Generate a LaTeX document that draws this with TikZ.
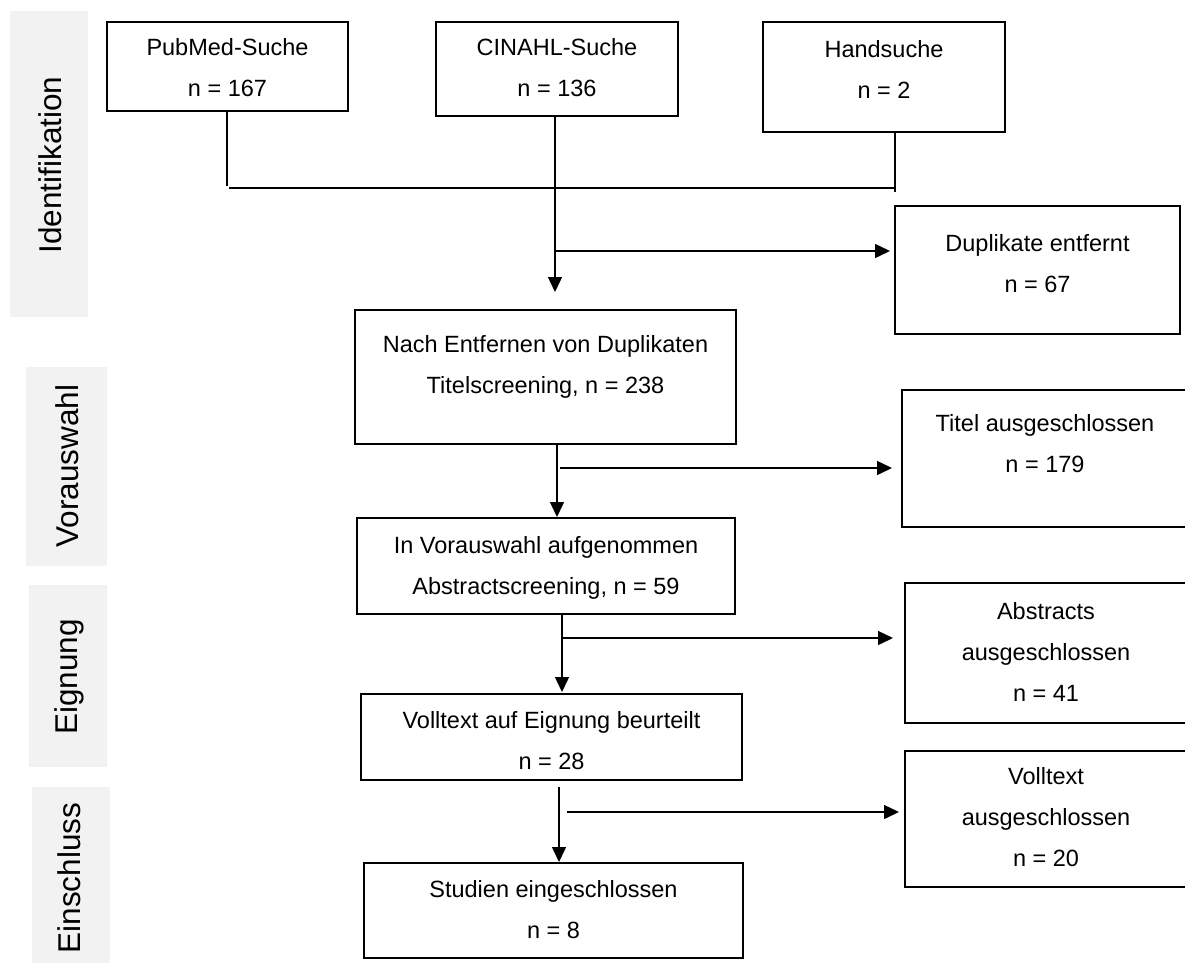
\documentclass[tikz,border=0pt]{standalone}
\usepackage{fontspec}
\setmainfont{Liberation Sans}
\usetikzlibrary{arrows.meta,fit}
\definecolor{bandgray}{HTML}{F2F2F2}
\tikzset{
  box/.style={draw=black, line width=2pt, inner sep=0pt, fill=white},
  txt/.style={align=center, font=\fontsize{23.5}{41}\selectfont, inner sep=0pt},
  band/.style={fill=bandgray, draw=none, inner sep=0pt},
  bandtxt/.style={rotate=90, anchor=base, font=\fontsize{31.5}{36}\selectfont, inner sep=0pt},
  thinline/.style={line width=1.2pt},
  arr/.style={line width=1.4pt, -{Triangle[length=15pt,width=14pt]}}
}
\begin{document}
\begin{tikzpicture}[x=1pt,y=-1pt]
\useasboundingbox (0,0) rectangle (1185,962);
% phase bands
\node[band, fit={(10,11) (88,317)}] (bIdent) {};
\node[band, fit={(26,367) (107,566)}] (bVor) {};
\node[band, fit={(29,585) (107,767)}] (bEig) {};
\node[band, fit={(32,787) (110,964)}] (bEin) {};
\node[bandtxt] (lIdent) at (61,165) {Identifikation};
\node[bandtxt] (lVor) at (78,466) {Vorauswahl};
\node[bandtxt] (lEig) at (77.5,677) {Eignung};
\node[bandtxt] (lEin) at (80,878) {Einschluss};
% boxes
\node[box, fit={(107,22) (348,111)}] (pub) {};
\node[box, fit={(436,22) (678,116)}] (cin) {};
\node[box, fit={(763,22) (1005,132)}] (hand) {};
\node[box, fit={(895,206) (1180,334)}] (dup) {};
\node[box, fit={(355,310) (736,444)}] (nach) {};
\node[box, fit={(902,390) (1190,527)}] (titel) {};
\node[box, fit={(357,518) (735,614)}] (vor) {};
\node[box, fit={(905,583) (1190,723)}] (abs) {};
\node[box, fit={(361,694) (742,780)}] (voll) {};
\node[box, fit={(905,751) (1190,887)}] (vausg) {};
\node[box, fit={(364,863) (743,958)}] (stud) {};
% texts
\node[txt] (pubT) at (227.5,68) {PubMed-Suche\\n = 167};
\node[txt] (cinT) at (557,68) {CINAHL-Suche\\n = 136};
\node[txt] (handT) at (884,69) {Handsuche\\n = 2};
\node[txt] (dupT) at (1037.5,264) {Duplikate entfernt\\n = 67};
\node[txt] (nachT) at (545.5,366.5) {Nach Entfernen von Duplikaten\\Titelscreening, n = 238};
\node[txt] (titelT) at (1045,444) {Titel ausgeschlossen\\n = 179};
\node[txt] (vorT) at (546,568) {In Vorauswahl aufgenommen\\Abstractscreening, n = 59};
\node[txt] (absT) at (1046,652) {Abstracts\\ausgeschlossen\\n = 41};
\node[txt] (vollT) at (551.5,741) {Volltext auf Eignung beurteilt\\n = 28};
\node[txt] (vausgT) at (1046,817) {Volltext\\ausgeschlossen\\n = 20};
\node[txt] (studT) at (553.5,909.5) {Studien eingeschlossen\\n = 8};
% joining lines
\coordinate (pl) at (227,186);
\coordinate (jl) at (229,188);
\coordinate (jr) at (895,188);
\coordinate (jre) at (895,192);
\draw[thinline] (pl |- pub.south) -- (pl);
\draw[thinline] (jl) -- (jr);
\draw[thinline] (jre |- hand.south) -- (jre);
% main flow
\coordinate (m1) at (555,292);
\draw[arr] (m1 |- cin.south) -- (m1);
\coordinate (b1) at (556,251);
\draw[arr, shorten >=4pt] (b1) -- (b1 -| dup.west);
\coordinate (m2) at (557,0);
\draw[arr] (m2 |- nach.south) -- (m2 |- vor.north);
\coordinate (b2) at (560,468);
\draw[arr, shorten >=9pt] (b2) -- (b2 -| titel.west);
\coordinate (m3) at (562,0);
\draw[arr, shorten >=1pt] (m3 |- vor.south) -- (m3 |- voll.north);
\coordinate (b3) at (562,638);
\draw[arr, shorten >=11pt] (b3) -- (b3 -| abs.west);
\coordinate (m4) at (559,0);
\draw[arr, shorten <=6pt] (m4 |- voll.south) -- (m4 |- stud.north);
\coordinate (b4) at (567,812);
\draw[arr, shorten >=5pt] (b4) -- (b4 -| vausg.west);
\end{tikzpicture}
\end{document}
